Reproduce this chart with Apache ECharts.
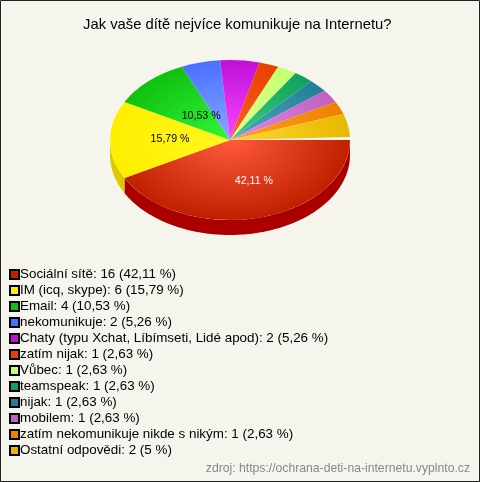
<!DOCTYPE html>
<html><head><meta charset="utf-8">
<style>html,body{margin:0;padding:0;background:#f5f5ee}#c{width:480px;height:482px}</style>
<script src="https://cdn.jsdelivr.net/npm/echarts@6/dist/echarts.min.js"></script>
</head><body><div id="c"></div>
<script>
const names = ['Sociální sítě','IM (icq, skype)','Email','nekomunikuje','Chaty (typu Xchat, Líbímseti, Lidé apod)','zatím nijak','Vůbec','teamspeak','nijak','mobilem','zatím nekomunikuje nikde s nikým','Ostatní odpovědi'];
const values = [16,6,4,2,2,1,1,1,1,1,1,2];
const percentText = ['42,11','15,79','10,53','5,26','5,26','2,63','2,63','2,63','2,63','2,63','2,63','5'];
const sliceLabels = ['42,11 %','15,79 %','10,53 %','','','','','','','','',''];
const baseColors = ['#c02000','#ffee00','#10c010','#4a70ff','#c010d8','#e84000','#c4ff70','#10a060','#208098','#c060c0','#f08000','#e8b800'];
const innerColors = ['#ff5a3c','#fff820','#30f838','#88a8ff','#f848ff','#ff6020','#e0ff90','#40d080','#50a8c0','#e888e8','#ffa020','#ffd830'];
const wallColors = ['#aa0000','#e0c800'];
const labelColors = ['#fff','#000','#000'];
const labelRadius = [0.55,0.5,0.385];
const labelTurn = [-7,2,4];

const CX=230, CY=140, RX=120, RY=80, DEPTH=15;
const total = values.reduce((a,b)=>a+b,0);
const startOf = i => values.slice(0,i).reduce((a,b)=>a+b,0)/total*Math.PI*2;
const ell = (a,dy)=>[CX+RX*Math.cos(a), CY+dy+RY*Math.sin(a)];

function renderSlice(params, api){
  const i = params.seriesIndex;
  const a0 = startOf(i), a1 = a0 + api.value(0)/total*Math.PI*2;
  const children = [];
  const grad = new echarts.graphic.RadialGradient(CX,CY,RX,[{offset:0,color:innerColors[i]},{offset:1,color:baseColors[i]}],true);
  children.push({type:'sector',
    originX:CX, originY:CY, scaleY:RY/RX,
    shape:{cx:CX,cy:CY,r0:0,r:RX,startAngle:a0,endAngle:a1,clockwise:true},
    style:{fill:grad}, z2:5});
  if(a0 < Math.PI){
    const end = Math.min(a1, Math.PI), pts=[];
    const n = Math.ceil((end-a0)/0.02);
    for(let k=0;k<=n;k++) pts.push(ell(a0+(end-a0)*k/n,0));
    for(let k=n;k>=0;k--) pts.push(ell(a0+(end-a0)*k/n,DEPTH));
    children.push({type:'polygon',shape:{points:pts},style:{fill:wallColors[i]||baseColors[i]},z2:1});
  }
  if(sliceLabels[i]){
    const mid=(a0+a1)/2+labelTurn[i]*Math.PI/180, f=labelRadius[i];
    children.push({type:'text',x:CX+RX*f*Math.cos(mid),y:CY+RY*f*Math.sin(mid),z2:20,style:{text:sliceLabels[i],fill:labelColors[i],font:'10.6px "Liberation Sans", Arial',textAlign:'center',textVerticalAlign:'middle'}});
  }
  return {type:'group',children};
}

const series = names.map((n,i)=>({
  type:'custom', name:n, coordinateSystem:'none', silent:true, animation:false,
  renderItem:renderSlice, data:[[values[i]]], itemStyle:{color:baseColors[i],borderColor:'#000',borderWidth:1},
  encode:{}
}));
series.push({type:'custom',coordinateSystem:'none',silent:true,animation:false,data:[[0]],z:5,
  renderItem:()=>({type:'polygon',shape:{points:[[CX,CY],[CX+RX,CY-3],[CX+RX,CY]]},style:{fill:'#fbfbf2'}})});

const chart = echarts.init(document.getElementById('c'),null,{renderer:'canvas'});
chart.setOption({
  animation:false,
  backgroundColor:'#f5f5ee',
  title:{text:'Jak vaše dítě nejvíce komunikuje na Internetu?',left:83,top:17,padding:0,
    textStyle:{fontFamily:'Liberation Sans',fontSize:14.8,fontWeight:'normal',color:'#000'}},
  legend:{orient:'vertical',left:9,top:268,padding:0,itemWidth:9,itemHeight:9,itemGap:3,selectedMode:false,icon:'rect',
    data:names,
    formatter:n=>{const i=names.indexOf(n);return n+': '+values[i]+' ('+percentText[i]+' %)';},
    textStyle:{fontFamily:'Liberation Sans',fontSize:13.4,color:'#000',padding:[0,0,0,-4],lineHeight:13}},
  graphic:[
    {type:'rect',shape:{x:0.5,y:0.5,width:479,height:481},style:{fill:'none',stroke:'#222',lineWidth:1},silent:true},
    {type:'text',right:10,top:463,style:{text:'zdroj: https://ochrana-deti-na-internetu.vyplnto.cz',fill:'#888',font:'12.2px "Liberation Sans"'},silent:true}
  ],
  series
});
</script></body></html>
